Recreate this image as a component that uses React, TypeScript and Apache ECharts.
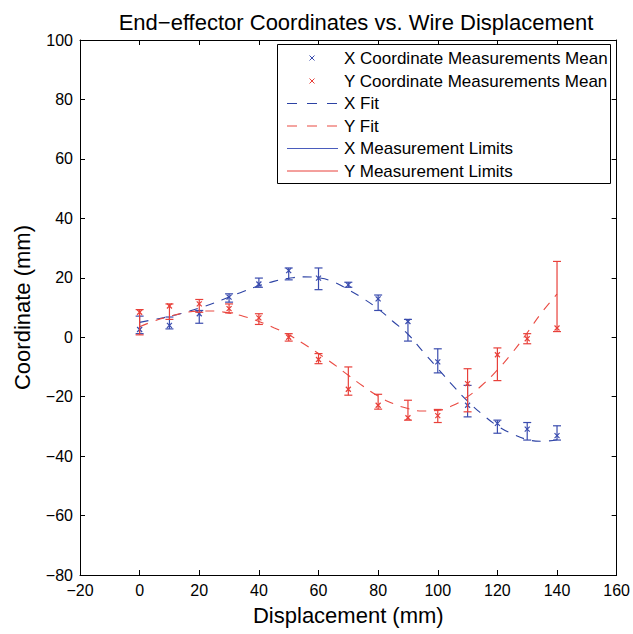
import React, { useEffect, useRef } from "react";
import * as echarts from "echarts";

const displacement = [0, 10, 20, 30, 40, 50, 60, 70, 80, 90, 100, 110, 120, 130, 140];

const xMean = [2.6, 4.0, 7.9, 13.5, 17.9, 22.4, 19.9, 17.6, 12.9, 5.3, -8.3, -22.9, -29.0, -30.9, -33.1];
const xLow = [1.2, 2.8, 4.7, 11.8, 16.8, 19.3, 16.0, 16.8, 9.0, -1.3, -12.0, -26.8, -32.3, -34.6, -34.6];
const xHigh = [7.1, 6.8, 9.0, 14.6, 19.9, 23.3, 23.3, 18.5, 14.2, 6.0, -3.9, -16.2, -27.9, -28.7, -29.8];

const yMean = [8.4, 10.5, 11.2, 9.6, 6.5, 0.0, -7.5, -17.5, -22.9, -27.1, -26.4, -15.6, -5.9, -0.5, 3.1];
const yLow = [0.8, 6.0, 8.4, 8.2, 4.3, -1.3, -8.9, -19.5, -24.2, -27.9, -28.7, -25.1, -14.6, -2.2, 1.9];
const yHigh = [9.3, 11.2, 12.7, 11.2, 7.9, 1.2, -5.5, -10.0, -19.2, -21.2, -24.3, -10.6, -3.6, 1.2, 25.5];

const fitDisplacement = [0, 5, 10, 15, 20, 25, 30, 35, 40, 45, 50, 55, 60, 65, 70, 75, 80, 85, 90, 95, 100, 105, 110, 115, 120, 125, 130, 135, 140];
const xFit = [5, 6, 7, 8.3, 9.8, 11.5, 13.5, 15.5, 17.3, 18.8, 19.8, 20.3, 20, 18.6, 16, 13, 9.5, 5.3, 1, -4.8, -10.5, -16.2, -21.5, -26, -29.8, -32.5, -34.4, -35, -34.5];
const yFit = [3.5, 5.5, 7, 8.2, 8.8, 8.8, 8.1, 7, 5.3, 3.2, 0.8, -2.2, -5.5, -9, -12.8, -16.5, -19.8, -22.3, -24, -24.8, -24.6, -23, -20, -16, -11, -5.2, 1.5, 8.5, 14.5];

const legendLabels = [
  "X Coordinate Measurements Mean",
  "Y Coordinate Measurements Mean",
  "X Fit",
  "Y Fit",
  "X Measurement Limits",
  "Y Measurement Limits",
];

const BLUE = "#3a4cae";
const RED = "#e8403a";
const BLUE_FIT = "#2c42a4";
const RED_FIT = "#ea4a42";
const BLUE_LIM = "#4a5cbc";
const FONT = "'Liberation Sans', Arial, Helvetica, sans-serif";

const minusFmt = (v: number) => String(v).replace("-", "\u2212");

function errorRender(color: string) {
  return (params: any, api: any) => {
    const x = api.value(0);
    const m = api.value(1);
    const lo = api.value(2);
    const hi = api.value(3);
    const pm = api.coord([x, m]);
    const pl = api.coord([x, lo]);
    const ph = api.coord([x, hi]);
    const cw = 4;
    const ms = 2.5;
    const st = { stroke: color, lineWidth: 1.2, fill: null };
    return {
      type: "group",
      children: [
        { type: "line", shape: { x1: pl[0], y1: pl[1], x2: ph[0], y2: ph[1] }, style: st },
        { type: "line", shape: { x1: pl[0] - cw, y1: pl[1], x2: pl[0] + cw, y2: pl[1] }, style: st },
        { type: "line", shape: { x1: ph[0] - cw, y1: ph[1], x2: ph[0] + cw, y2: ph[1] }, style: st },
        { type: "line", shape: { x1: pm[0] - ms, y1: pm[1] - ms, x2: pm[0] + ms, y2: pm[1] + ms }, style: st },
        { type: "line", shape: { x1: pm[0] - ms, y1: pm[1] + ms, x2: pm[0] + ms, y2: pm[1] - ms }, style: st },
      ],
    };
  };
}

export default function App() {
  const ref = useRef<HTMLDivElement>(null);
  useEffect(() => {
    document.body.style.margin = "0";
    const chart = echarts.init(ref.current!, null, { renderer: "svg" });

    const xErrData = displacement.map((d, i) => [d, xMean[i], xLow[i], xHigh[i]]);
    const yErrData = displacement.map((d, i) => [d, yMean[i], yLow[i], yHigh[i]]);

    const lx0 = 277, ly0 = 44, lw = 333, lh = 139;
    const rowY = [58, 81, 103.5, 126, 148.5, 171];
    const legendChildren: any[] = [
      { type: "rect", shape: { x: lx0 + 0.5, y: ly0 + 0.5, width: lw, height: lh }, style: { fill: "#fff", stroke: "#000", lineWidth: 1 }, z: 100 },
    ];
    const legendColors = [BLUE, RED, BLUE_FIT, RED_FIT, BLUE_LIM, RED];
    legendLabels.forEach((lab, i) => {
      const y = rowY[i];
      const c = legendColors[i];
      if (i < 2) {
        const cx = 312, s = 2.5;
        legendChildren.push({ type: "line", shape: { x1: cx - s, y1: y - s, x2: cx + s, y2: y + s }, style: { stroke: c, lineWidth: 1 }, z: 101 });
        legendChildren.push({ type: "line", shape: { x1: cx - s, y1: y + s, x2: cx + s, y2: y - s }, style: { stroke: c, lineWidth: 1 }, z: 101 });
      } else if (i < 4) {
        legendChildren.push({ type: "line", shape: { x1: 287, y1: y, x2: 338, y2: y }, style: { stroke: c, lineWidth: 1.2, lineDash: [10, 10] }, z: 101 });
      } else {
        legendChildren.push({ type: "line", shape: { x1: 287, y1: y, x2: 338, y2: y }, style: { stroke: c, lineWidth: 1 }, z: 101 });
      }
      legendChildren.push({
        type: "text",
        x: 344,
        y: y,
        style: { text: lab, fill: "#000", font: `17px ${FONT}`, textVerticalAlign: "middle", textAlign: "left" },
        z: 101,
      });
    });

    const axisCommon = {
      type: "value" as const,
      axisLine: { show: true, onZero: false, lineStyle: { color: "#000", width: 1 } },
      axisTick: { show: true, inside: true, length: 5, lineStyle: { color: "#000" } },
      splitLine: { show: false },
    };

    chart.setOption({
      animation: false,
      backgroundColor: "#fff",
      title: {
        text: "End\u2212effector Coordinates vs. Wire Displacement",
        left: 351,
        top: 6,
        textAlign: "center",
        textStyle: { fontFamily: FONT, fontSize: 22, fontWeight: "normal", color: "#000" },
      },
      grid: { left: 80, right: 12, top: 40, bottom: 59, containLabel: false },
      xAxis: [
        {
          ...axisCommon,
          position: "bottom",
          min: -20,
          max: 160,
          interval: 20,
          name: "Displacement (mm)",
          nameLocation: "middle",
          nameGap: 29,
          nameTextStyle: { fontFamily: FONT, fontSize: 22, color: "#000" },
          axisLabel: { show: true, margin: 7, color: "#000", fontFamily: FONT, fontSize: 16, formatter: minusFmt },
        },
        {
          ...axisCommon,
          position: "top",
          min: -20,
          max: 160,
          interval: 20,
          axisLabel: { show: false },
        },
      ],
      yAxis: [
        {
          ...axisCommon,
          position: "left",
          min: -80,
          max: 100,
          interval: 20,
          name: "Coordinate (mm)",
          nameLocation: "middle",
          nameGap: 47,
          nameRotate: 90,
          nameTextStyle: { fontFamily: FONT, fontSize: 22, color: "#000" },
          axisLabel: { show: true, margin: 7, color: "#000", fontFamily: FONT, fontSize: 16, formatter: minusFmt },
        },
        {
          ...axisCommon,
          position: "right",
          min: -80,
          max: 100,
          interval: 20,
          axisLabel: { show: false },
        },
      ],
      graphic: legendChildren,
      series: [
        {
          name: "X Fit",
          type: "line",
          data: fitDisplacement.map((d, i) => [d, xFit[i]]),
          showSymbol: false,
          smooth: true,
          lineStyle: { color: BLUE_FIT, width: 1.1, type: [9, 8] },
          z: 2,
        },
        {
          name: "Y Fit",
          type: "line",
          data: fitDisplacement.map((d, i) => [d, yFit[i]]),
          showSymbol: false,
          smooth: true,
          lineStyle: { color: RED_FIT, width: 1.1, type: [9, 8] },
          z: 2,
        },
        {
          name: "X Measurement Limits",
          type: "custom",
          renderItem: errorRender(BLUE),
          data: xErrData,
          encode: { x: 0, y: [1, 2, 3] },
          z: 3,
        },
        {
          name: "Y Measurement Limits",
          type: "custom",
          renderItem: errorRender(RED),
          data: yErrData,
          encode: { x: 0, y: [1, 2, 3] },
          z: 4,
        },
      ],
    });
    return () => chart.dispose();
  }, []);
  return <div ref={ref} style={{ width: 633, height: 634 }} />;
}
